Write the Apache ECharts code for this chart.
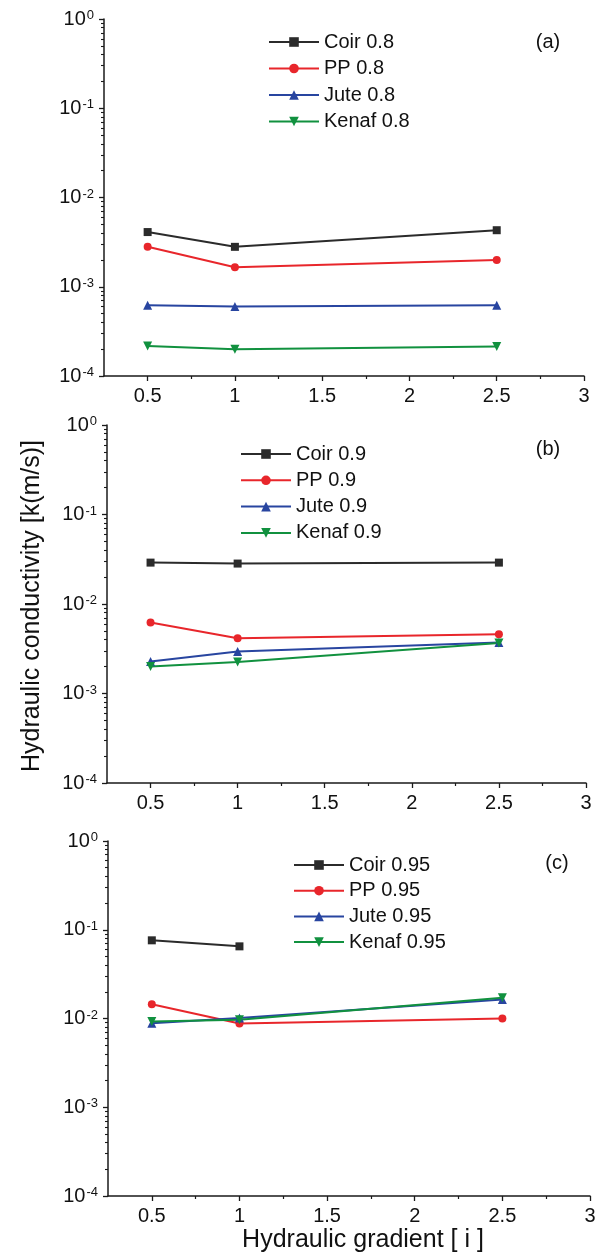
<!DOCTYPE html>
<html>
<head>
<meta charset="utf-8">
<script src="https://cdn.jsdelivr.net/npm/echarts@6/dist/echarts.min.js"></script>
<style>
  html, body { margin: 0; padding: 0; background: #ffffff; }
  #chart { width: 600px; height: 1258px; }
</style>
</head>
<body>
<div id="chart"></div>
<script>
// Hydraulic gradient values where k was measured
const gradients = [0.5, 1, 2.5];

// Axis ticks
const xTicks = [0.5, 1, 1.5, 2, 2.5, 3];
const xMinorTicks = [0.75, 1.25, 1.75, 2.25, 2.75];

// Series names
const materials = ['Coir', 'PP', 'Jute', 'Kenaf'];
const porosities = ['0.8', '0.9', '0.95'];
const panelTags = ['(a)', '(b)', '(c)'];

// Hydraulic conductivity k (m/s), porosity 0.8
const coir08  = [4.1e-3, 2.8e-3, 4.3e-3];
const pp08    = [2.8e-3, 1.65e-3, 2.0e-3];
const jute08  = [6.2e-4, 6.0e-4, 6.2e-4];
const kenaf08 = [2.17e-4, 2.0e-4, 2.14e-4];

// porosity 0.9
const coir09  = [2.9e-2, 2.83e-2, 2.9e-2];
const pp09    = [6.2e-3, 4.15e-3, 4.6e-3];
const jute09  = [2.28e-3, 2.95e-3, 3.72e-3];
const kenaf09 = [2.0e-3, 2.25e-3, 3.66e-3];

// porosity 0.95 (no Coir reading at i = 2.5)
const coir095  = [7.6e-2, 6.5e-2];
const pp095    = [1.45e-2, 8.8e-3, 1.0e-2];
const jute095  = [8.85e-3, 1.01e-2, 1.64e-2];
const kenaf095 = [9.25e-3, 9.7e-3, 1.71e-2];

const panelData = [
  [coir08, pp08, jute08, kenaf08],
  [coir09, pp09, jute09, kenaf09],
  [coir095, pp095, jute095, kenaf095]
];

// ---- styling / layout ----
const FONT = 'Liberation Sans, Arial, sans-serif';
const colors = ['#2b2b2b', '#e8262b', '#2845a0', '#11913f'];
const symbols = ['rect', 'circle', 'triangle', 'triangle'];
const symbolRotates = [0, 0, 0, 180];
const symbolSizes = [8, 8, 9, 9];

const grids = [
  { left: 104, top: 19,  width: 480, height: 357 },
  { left: 107, top: 425, width: 479, height: 358 },
  { left: 108, top: 841, width: 482, height: 355 }
];
const legendPos = [
  { left: 268, top: 32,  itemGap: 6.5 },
  { left: 240, top: 444, itemGap: 6.3 },
  { left: 293, top: 855, itemGap: 5.7 }
];
const tagPos = [[548, 42], [548, 449], [557, 863]];

const axisColor = '#1a1a1a';

// log-spaced minor tick positions (2..9 x 10^n), expressed as exponents
const yMinorExp = [];
for (let d = -4; d < 0; d++) {
  for (let m = 2; m <= 9; m++) yMinorExp.push(Math.log10(m) + d);
}

const xAxes = [], yAxes = [], series = [], legends = [], graphics = [];

grids.forEach((g, p) => {
  // main x axis
  xAxes.push({
    type: 'value', gridIndex: p, position: 'bottom', min: 0.25, max: 3,
    axisLine: { show: true, onZero: false, lineStyle: { color: axisColor, width: 1.5 } },
    axisTick: { show: true, customValues: xTicks, length: 5, lineStyle: { color: axisColor, width: 1.3 } },
    axisLabel: {
      customValues: xTicks, margin: 10, color: '#111', fontSize: 20, fontFamily: FONT,
      formatter: v => String(v)
    },
    splitLine: { show: false }
  });
  // minor x ticks: a top-side axis shifted down onto the bottom edge, ticks pointing down
  xAxes.push({
    type: 'value', gridIndex: p, position: 'top', offset: -g.height, min: 0.25, max: 3,
    axisLine: { show: false, onZero: false },
    axisTick: { show: true, inside: true, customValues: xMinorTicks, length: 3, lineStyle: { color: axisColor, width: 1.2 } },
    axisLabel: { show: false },
    splitLine: { show: false }
  });
  // main log y axis
  yAxes.push({
    type: 'log', logBase: 10, gridIndex: p, position: 'left', min: 1e-4, max: 1,
    axisLine: { show: true, onZero: false, lineStyle: { color: axisColor, width: 1.5 } },
    axisTick: { show: true, length: 5, lineStyle: { color: axisColor, width: 1.3 } },
    minorTick: { show: false },
    axisLabel: {
      margin: 10, color: '#111', fontFamily: FONT,
      formatter: v => '{b|10}{s|' + Math.round(Math.log10(v)) + '}',
      rich: {
        b: { fontSize: 20, fontFamily: FONT, color: '#111' },
        s: { fontSize: 13, fontFamily: FONT, color: '#111', verticalAlign: 'top', padding: [0, 0, 0, 1] }
      }
    },
    splitLine: { show: false }
  });
  // minor y ticks in exponent space: right-side axis shifted onto the left edge, ticks pointing left
  yAxes.push({
    type: 'value', gridIndex: p, position: 'right', offset: -g.width, min: -4, max: 0,
    axisLine: { show: false, onZero: false },
    axisTick: { show: true, inside: true, customValues: yMinorExp, length: 3, lineStyle: { color: axisColor, width: 1.1 } },
    axisLabel: { show: false },
    splitLine: { show: false }
  });

  const names = [];
  panelData[p].forEach((vals, s) => {
    const name = materials[s] + ' ' + porosities[p];
    names.push(name);
    series.push({
      name, type: 'line',
      xAxisIndex: 2 * p, yAxisIndex: 2 * p,
      data: vals.map((v, i) => [gradients[i], v]),
      symbol: symbols[s], symbolRotate: symbolRotates[s], symbolSize: symbolSizes[s],
      showAllSymbol: true,
      lineStyle: { color: colors[s], width: 2 },
      itemStyle: { color: colors[s] },
      emphasis: { disabled: true },
      animation: false
    });
  });

  legends.push({
    orient: 'vertical',
    left: legendPos[p].left, top: legendPos[p].top,
    padding: 0,
    itemGap: legendPos[p].itemGap,
    itemWidth: 50, itemHeight: 12,
    textStyle: { fontSize: 20, fontFamily: FONT, color: '#111', lineHeight: 20 },
    data: names,
    selectedMode: false
  });

  graphics.push({
    type: 'text', x: tagPos[p][0], y: tagPos[p][1],
    style: { text: panelTags[p], fontSize: 20, fontFamily: FONT, fill: '#111', align: 'center', verticalAlign: 'middle' }
  });
});

// shared axis titles
graphics.push({
  type: 'text', x: 32, y: 606, rotation: Math.PI / 2,
  style: { text: 'Hydraulic conductivity [k(m/s)]', fontSize: 25, fontFamily: FONT, fill: '#111', align: 'center', verticalAlign: 'middle' }
});
graphics.push({
  type: 'text', x: 363, y: 1240,
  style: { text: 'Hydraulic gradient [ i ]', fontSize: 25, fontFamily: FONT, fill: '#111', align: 'center', verticalAlign: 'middle' }
});

const chart = echarts.init(document.getElementById('chart'), null, { renderer: 'canvas' });
chart.setOption({
  backgroundColor: '#ffffff',
  animation: false,
  grid: grids.map(g => Object.assign({ containLabel: false }, g)),
  xAxis: xAxes,
  yAxis: yAxes,
  legend: legends,
  series,
  graphic: graphics
});
</script>
</body>
</html>
